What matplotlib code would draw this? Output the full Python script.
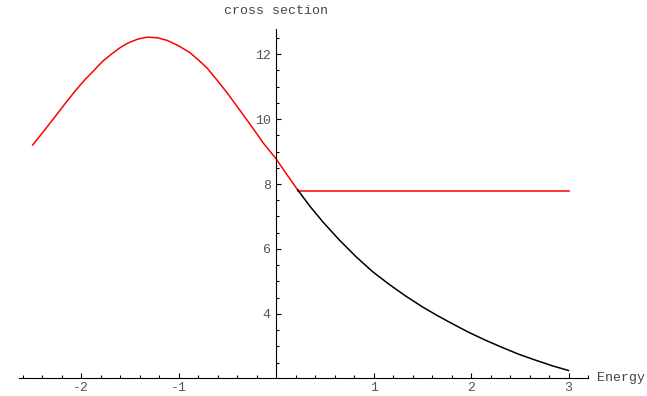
import numpy as np
import matplotlib.pyplot as plt

plt.rcParams['font.family'] = ['Liberation Mono', 'DejaVu Sans Mono']
plt.rcParams['axes.unicode_minus'] = False

# red curve (below threshold)
red_x = [-2.5, -2.38, -2.27, -2.17, -2.07, -1.96, -1.86, -1.78, -1.69, -1.6,
         -1.52, -1.42, -1.32, -1.22, -1.12, -1.0, -0.88, -0.8, -0.71, -0.6,
         -0.5, -0.4, -0.3, -0.2, -0.13, 0.0, 0.1, 0.22]
red_y = [9.2, 9.65, 10.07, 10.46, 10.84, 11.22, 11.53, 11.78, 12.0, 12.2,
         12.34, 12.46, 12.52, 12.5, 12.42, 12.25, 12.03, 11.82, 11.57, 11.17,
         10.79, 10.38, 9.97, 9.55, 9.25, 8.77, 8.33, 7.82]

# red flat part above threshold
flat_x = [0.22, 3.0]
flat_y = [7.8, 7.8]

# black curve
black_x = [0.22, 0.35, 0.48, 0.65, 0.82, 0.99, 1.16, 1.33, 1.5, 1.66,
           1.82, 1.98, 2.15, 2.32, 2.49, 2.66, 2.83, 3.0]
black_y = [7.82, 7.3, 6.83, 6.27, 5.76, 5.3, 4.91, 4.55, 4.22, 3.94,
           3.68, 3.43, 3.19, 2.97, 2.76, 2.58, 2.41, 2.26]

xticks = [-2, -1, 1, 2, 3]
yticks = [4, 6, 8, 10, 12]

fig = plt.figure(figsize=(6.47, 3.96), dpi=100)
ax = fig.add_axes([19 / 647, 18 / 396, 569 / 647, 349 / 396])

ax.plot(red_x, red_y, color='red', lw=1.1)
ax.plot(flat_x, flat_y, color='red', lw=1.1)
ax.plot(black_x, black_y, color='black', lw=1.1)

ax.set_xlim(-2.64, 3.16)
ax.set_ylim(2.03, 12.77)

# Mathematica style axes: crossing at x=0 and the bottom of the range
ax.spines['left'].set_position(('data', 0))
ax.spines[['top', 'right']].set_visible(False)
for s in ['left', 'bottom']:
    ax.spines[s].set_linewidth(0.8)

ax.set_xticks(xticks)
ax.set_xticklabels([str(t) for t in xticks])
ax.set_xticks([v for v in np.round(np.arange(-2.6, 3.2, 0.2), 1)
               if abs(v - round(v)) > 1e-6], minor=True)
ax.set_yticks(yticks)
ax.set_yticklabels([str(t) for t in yticks])
ax.set_yticks([v for v in np.arange(2.5, 12.8, 0.5) if v % 2 != 0], minor=True)

ax.tick_params(which='both', direction='in', labelsize=9.5, labelcolor='#555555', width=0.8)
ax.tick_params(which='major', length=3.8)
ax.tick_params(which='minor', length=2.2)
ax.tick_params(axis='x', pad=3)
ax.tick_params(axis='y', pad=4)

fig.text(276 / 647, 1 - 11 / 396, 'cross section', ha='center', va='center',
         fontsize=9.5, color='#444444')
fig.text(597 / 647, 1 - 378 / 396, 'Energy', ha='left', va='center',
         fontsize=9.5, color='#444444')

fig.savefig('out.png', dpi=100)
